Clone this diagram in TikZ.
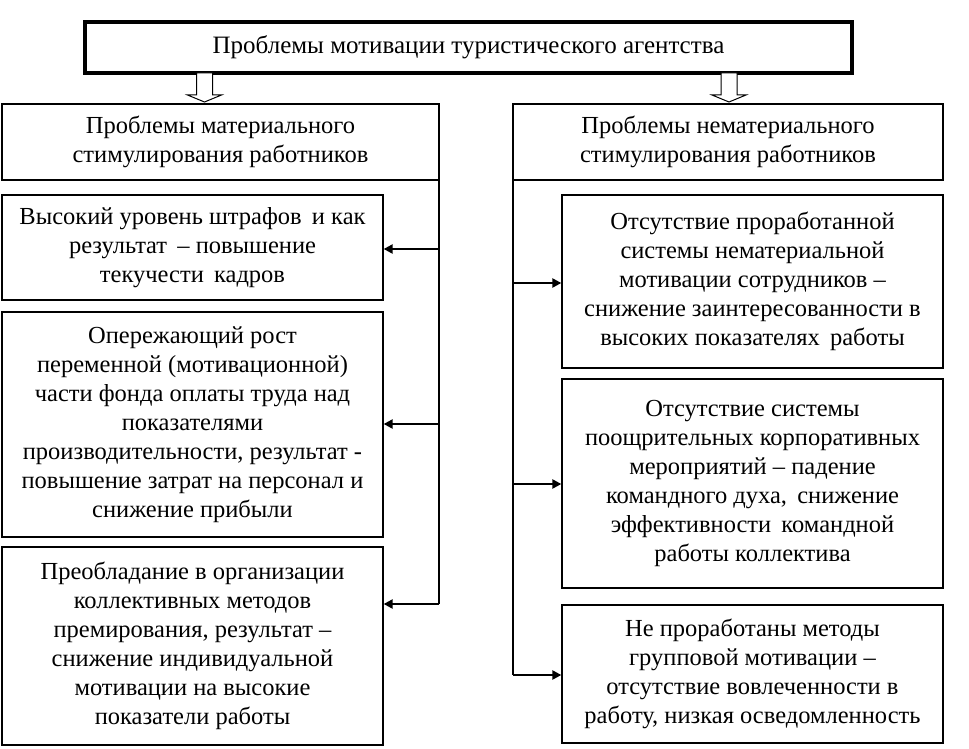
\documentclass[tikz,border=0pt]{standalone}
\usepackage{fontspec}
\setmainfont{Liberation Serif}
\usetikzlibrary{arrows.meta}
\begin{document}
\begin{tikzpicture}[x=1pt,y=-1pt,
  box/.style={draw,line width=1.3pt,inner sep=0pt,align=center,font=\fontsize{24.5}{29}\selectfont},
  topbox/.style={box,line width=3.5pt,font=\fontsize{25}{29}\selectfont},
  conn/.style={line width=2.2pt},
  arr/.style={line width=2.2pt,-{Triangle[length=9pt,width=9pt]}},
  blockarr/.style={draw,line width=1pt,fill=white}]
\useasboundingbox (0,0) rectangle (969,749);

\node[topbox,minimum width=767pt,minimum height=51pt] (top) at (468.5,47.5)
  {Проблемы мотивации туристического агентства};

\node[box,line width=1.8pt,minimum width=437pt,minimum height=76pt] (LH) at (220.5,142)
  {Проблемы материального\\стимулирования работников};
\node[box,line width=1.8pt,minimum width=430pt,minimum height=76pt] (RH) at (728,142)
  {Проблемы нематериального\\стимулирования работников};

\node[box,minimum width=381pt,minimum height=105pt] (L1) at (192.5,247.5)
  {Высокий уровень штрафов\, и как\\результат\, – повышение\\текучести\, кадров};
\node[box,minimum width=381pt,minimum height=225pt] (L2) at (192.5,424.5)
  {Опережающий рост\\переменной (мотивационной)\\части фонда оплаты труда над\\показателями\\производительности, результат -\\повышение затрат на персонал и\\снижение прибыли};
\node[box,minimum width=381pt,minimum height=198pt] (L3) at (192.5,646)
  {Преобладание в организации\\коллективных методов\\премирования, результат –\\снижение индивидуальной\\мотивации на высокие\\показатели работы};

\node[box,minimum width=381pt,minimum height=173pt] (R1) at (752.5,281.5)
  {Отсутствие проработанной\\системы нематериальной\\мотивации сотрудников –\\снижение заинтересованности в\\высоких показателях\, работы};
\node[box,minimum width=381pt,minimum height=209pt] (R2) at (752.5,483.5)
  {Отсутствие системы\\поощрительных корпоративных\\мероприятий – падение\\командного духа,\, снижение\\эффективности\, командной\\работы коллектива};
\node[box,minimum width=381pt,minimum height=138pt] (R3) at (752.5,674)
  {Не проработаны методы\\групповой мотивации –\\отсутствие вовлеченности в\\работу, низкая осведомленность};

% hollow block arrows
\draw[blockarr] (196.5,73) -- (212.5,73) -- (212.5,95) -- (221.5,95) -- (204.5,102)
  -- (187.5,95) -- (196.5,95) -- cycle;
\draw[blockarr] (721,73) -- (737,73) -- (737,95) -- (746,95) -- (729,102)
  -- (712,95) -- (721,95) -- cycle;

% left spine
\coordinate (ls) at (439,178);
\coordinate (la1) at (439,249);
\coordinate (la2) at (439,424);
\coordinate (la3) at (439,604);
\draw[conn] (ls) -- (la3);
\draw[arr] (la1) -- (la1 -| L1.east);
\draw[arr] (la2) -- (la2 -| L2.east);
\draw[arr] (la3) -- (la3 -| L3.east);

% right spine
\coordinate (rs) at (513,179);
\coordinate (ra1) at (513,283);
\coordinate (ra2) at (513,484);
\coordinate (ra3) at (513,675);
\draw[conn] (rs) -- (ra3);
\draw[arr] (ra1) -- (ra1 -| R1.west);
\draw[arr] (ra2) -- (ra2 -| R2.west);
\draw[arr] (ra3) -- (ra3 -| R3.west);
\end{tikzpicture}
\end{document}
